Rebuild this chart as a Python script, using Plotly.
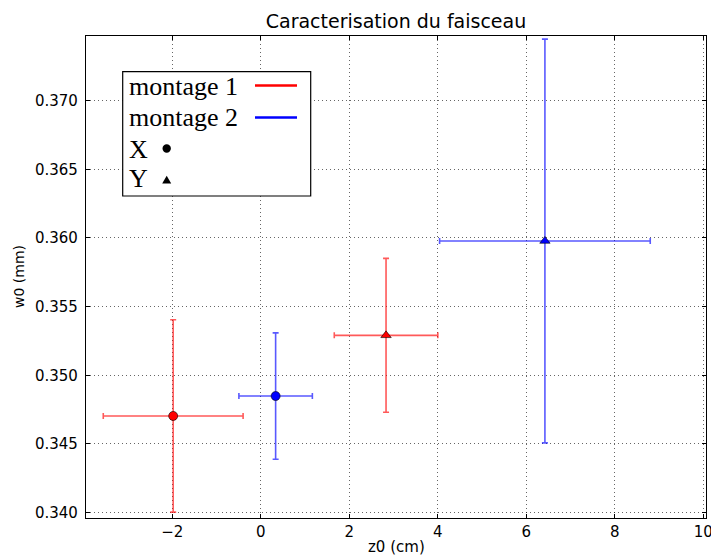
import plotly.graph_objects as go

# ---- data ----
montages = ["montage 1", "montage 2"]
colors_err = ["rgba(255,0,0,0.65)", "rgba(0,0,255,0.65)"]
colors_mk = ["#ff0000", "#0000ff"]

z0_X = [-1.98, 0.335]
z0_X_err = [1.58, 0.83]
w0_X = [0.34704, 0.34849]
w0_X_err = [0.0070, 0.0046]

z0_Y = [2.83, 6.42]
z0_Y_err = [1.17, 2.38]
w0_Y = [0.35291, 0.35978]
w0_Y_err = [0.0056, 0.0147]

x_ticks = [-2, 0, 2, 4, 6, 8, 10]
y_ticks = [0.340, 0.345, 0.350, 0.355, 0.360, 0.365, 0.370]

W, H = 711, 556
L, R, T, B = 86, 5, 36, 38

fig = go.Figure()

for i, m in enumerate(montages):
    for xs, xe, ys, ye, sym, lab in [
        (z0_X, z0_X_err, w0_X, w0_X_err, "circle", "X"),
        (z0_Y, z0_Y_err, w0_Y, w0_Y_err, "triangle-up", "Y"),
    ]:
        fig.add_trace(go.Scatter(
            x=[xs[i]], y=[ys[i]], mode="markers", name=f"{m} {lab}",
            marker=dict(symbol=sym, size=9, color=colors_mk[i],
                        line=dict(color="black", width=0.6)),
            error_x=dict(type="data", array=[xe[i]], color=colors_err[i],
                         thickness=1.6, width=3),
            error_y=dict(type="data", array=[ye[i]], color=colors_err[i],
                         thickness=1.6, width=3),
            showlegend=False,
        ))

# ---- custom legend (symbols to the right of text, as in reference) ----
pw, ph = W - L - R, H - T - B
def px(x):
    return (x - L) / pw
def py(y):
    return (H - B - y) / ph

shapes = []
annots = []
shapes.append(dict(type="rect", xref="paper", yref="paper",
                   x0=px(122.7), x1=px(310.7), y0=py(196), y1=py(71.7),
                   line=dict(color="black", width=1.2), fillcolor="white", layer="above"))
legend_rows = [("montage 1", 87), ("montage 2", 118), ("X", 149), ("Y", 179)]
for txt, yy in legend_rows:
    annots.append(dict(text=txt, xref="paper", yref="paper", x=px(126.5), y=py(yy),
                       xanchor="left", yanchor="middle", showarrow=False,
                       font=dict(family="Liberation Serif", size=26, color="black")))
for c, yy in [(colors_mk[0], 85.5), (colors_mk[1], 117.5)]:
    shapes.append(dict(type="line", xref="paper", yref="paper",
                       x0=px(255), x1=px(297), y0=py(yy), y1=py(yy),
                       line=dict(color=c, width=2.5), layer="above"))
r = 4.2
shapes.append(dict(type="circle", xref="paper", yref="paper",
                   x0=px(166.7 - r), x1=px(166.7 + r), y0=py(148.5 + r), y1=py(148.5 - r),
                   fillcolor="black", line=dict(color="black", width=0), layer="above"))
tx, ty, s = 166.7, 180, 4.5
shapes.append(dict(type="path", xref="paper", yref="paper",
                   path=f"M {px(tx - s)} {py(ty + s*0.8)} L {px(tx + s)} {py(ty + s*0.8)} L {px(tx)} {py(ty - s*0.95)} Z",
                   fillcolor="black", line=dict(color="black", width=0), layer="above"))

# axis titles
annots.append(dict(text="z0 (cm)", xref="paper", yref="paper", x=0.5, y=py(547),
                   xanchor="center", yanchor="middle", showarrow=False,
                   font=dict(family="DejaVu Sans", size=15, color="black")))
annots.append(dict(text="w0 (mm)", xref="paper", yref="paper", x=px(19), y=0.5,
                   xanchor="center", yanchor="middle", showarrow=False, textangle=-90,
                   font=dict(family="DejaVu Sans", size=14, color="black")))

axis_common = dict(
    showline=True, linecolor="black", linewidth=1.3, mirror="ticks",
    ticks="inside", ticklen=4, tickcolor="black",
    showgrid=True, gridcolor="rgba(0,0,0,0.6)", gridwidth=1, griddash="1px,3px",
    zeroline=False, ticklabeloverflow="allow", automargin=False,
    tickfont=dict(family="DejaVu Sans", size=15, color="black"),
)

fig.update_layout(
    width=W, height=H,
    margin=dict(l=L, r=R, t=T, b=B),
    paper_bgcolor="white", plot_bgcolor="white",
    title=dict(text="Caracterisation du faisceau", x=0.5, xref="paper", xanchor="center",
               y=1 - 21.5 / H, yref="container", yanchor="middle",
               font=dict(family="DejaVu Sans", size=19, color="black")),
    xaxis=dict(range=[-3.95, 10.06], tickvals=x_ticks, **axis_common),
    yaxis=dict(range=[0.33961, 0.374704], tickvals=y_ticks, tickformat=".3f",
               ticklabelstandoff=4, **axis_common),
    shapes=shapes, annotations=annots,
)

fig.write_html("out.html", config={"displayModeBar": False},
               post_script="document.documentElement.style.overflow='hidden';"
                           "document.body.style.overflow='hidden';"
                           "document.body.style.margin='0';document.body.style.padding='0';")
